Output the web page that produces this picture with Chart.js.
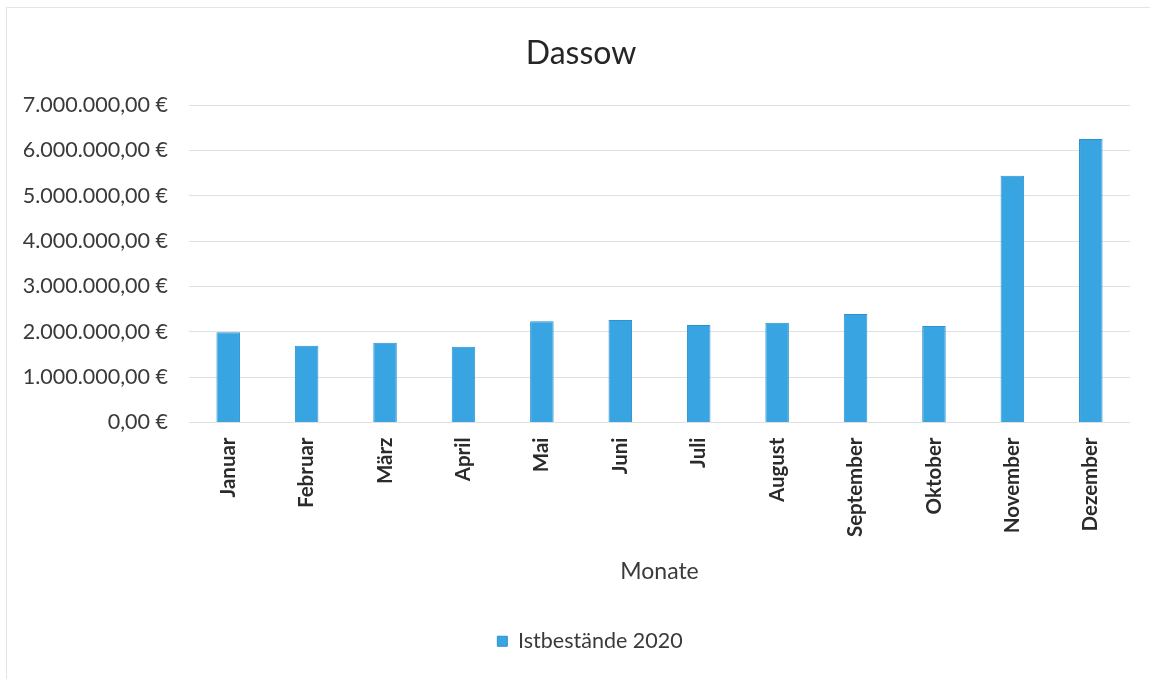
<!DOCTYPE html>
<html lang="de">
<head>
<meta charset="utf-8">
<title>Dassow</title>
<script src="https://cdn.jsdelivr.net/npm/chart.js@4.4.1/dist/chart.umd.min.js"></script>
<style>
  html, body { margin: 0; padding: 0; background: #fff; overflow: hidden; }
  #wrap { position: relative; width: 1150px; height: 679px; }
  #frame {
    position: absolute; left: 6px; top: 7px; width: 1200px; height: 700px;
    border-top: 1px solid #e4e4e4; border-left: 1px solid #e4e4e4;
    pointer-events: none;
  }
  canvas { position: absolute; left: 0; top: 0; }
</style>
</head>
<body>
<div id="wrap">
  <canvas id="chart" width="1150" height="679"></canvas>
  <div id="frame"></div>
</div>
<script>
// Monatliche Istbestände der Gemeinde Dassow
const chartTitle = 'Dassow';
const months = ['Januar', 'Februar', 'März', 'April', 'Mai', 'Juni', 'Juli',
                'August', 'September', 'Oktober', 'November', 'Dezember'];
const seriesLabel = 'Istbestände 2020';
const stock2020 = [1990000, 1690000, 1760000, 1670000, 2230000, 2260000,
                   2150000, 2200000, 2390000, 2130000, 5440000, 6250000];
const yTickValues = [0, 1000000, 2000000, 3000000, 4000000, 5000000, 6000000, 7000000];
const xAxisTitle = 'Monate';

// Euro-Format: 7.000.000,00 €
function euro(v) {
  const fixed = Math.abs(v).toFixed(2);
  const parts = fixed.split('.');
  const intPart = parts[0].replace(/\B(?=(\d{3})+(?!\d))/g, '.');
  return (v < 0 ? '-' : '') + intPart + ',' + parts[1] + ' €';
}

const FONT = 'Lato, "Open Sans", "DejaVu Sans", sans-serif';
const TEXT = '#3a3a3a';

// Titel und Legende etwas nach rechts rücken
const shiftHeaderFooter = {
  id: 'shiftHeaderFooter',
  afterLayout(chart) {
    if (chart.titleBlock) { chart.titleBlock.left += 32; }
    if (chart.legend) { chart.legend.left += 50; }
  }
};

new Chart(document.getElementById('chart'), {
  type: 'bar',
  data: {
    labels: months,
    datasets: [{
      label: seriesLabel,
      data: stock2020,
      backgroundColor: '#38a5e2',
      borderColor: '#2a93d1',
      borderWidth: 1,
      barPercentage: 0.3,
      categoryPercentage: 1.0
    }]
  },
  plugins: [shiftHeaderFooter],
  options: {
    responsive: false,
    maintainAspectRatio: false,
    animation: false,
    layout: { padding: { left: 0, right: 20, top: 0, bottom: 17 } },
    plugins: {
      title: {
        display: true,
        text: chartTitle,
        color: '#262626',
        font: { family: FONT, size: 32, weight: 'normal' },
        padding: { top: 34, bottom: 32.6 }
      },
      legend: {
        display: true,
        position: 'bottom',
        labels: {
          color: TEXT,
          font: { family: FONT, size: 21.5 },
          boxWidth: 10,
          boxHeight: 10,
          padding: 45
        }
      },
      tooltip: { enabled: false }
    },
    scales: {
      x: {
        grid: { display: false, drawTicks: false },
        border: { display: false },
        ticks: {
          color: '#2b2b2b',
          font: { family: FONT, size: 20.5, weight: 'bold' },
          maxRotation: 90,
          minRotation: 90,
          autoSkip: false,
          padding: 15
        },
        title: {
          display: true,
          text: xAxisTitle,
          color: TEXT,
          font: { family: FONT, size: 23 },
          padding: { top: 0, bottom: 0 }
        },
        afterFit(scale) { scale.height = 163; }
      },
      y: {
        min: 0,
        max: 7000000,
        afterBuildTicks(scale) { scale.ticks = yTickValues.map(v => ({ value: v })); },
        grid: { color: '#e0e0e0', lineWidth: 1, drawTicks: false },
        border: { display: false },
        ticks: {
          color: TEXT,
          font: { family: FONT, size: 21.5 },
          padding: 21,
          callback: (v) => euro(v)
        },
        afterFit(scale) { scale.width = 189; }
      }
    }
  }
});
</script>
</body>
</html>
